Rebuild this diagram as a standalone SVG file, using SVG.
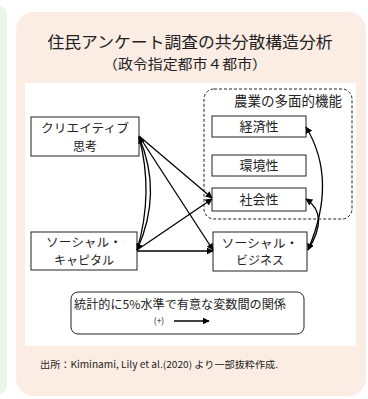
<svg xmlns="http://www.w3.org/2000/svg" width="368" height="399" viewBox="0 0 368 399">
<defs>
<marker id="ah" viewBox="0 0 10 10" refX="9" refY="5" markerWidth="7" markerHeight="7" markerUnits="userSpaceOnUse" orient="auto-start-reverse">
<path d="M0,0 L10,5 L0,10 z" fill="#000"/>
</marker>
<style>
.t{font-family:"Noto Sans CJK JP","Noto Sans",sans-serif;fill:#222;text-anchor:middle}
.box{fill:#fff;stroke:#222;stroke-width:1}
.c{fill:none;stroke:#000;stroke-width:1.3}
</style>
</defs>
<rect x="-20" y="4" width="27" height="392" rx="12" fill="#edf5e6"/>
<rect x="16" y="12" width="350" height="384" rx="18" fill="#fcede4"/>
<text class="t" x="190" y="48" font-size="16" textLength="285" lengthAdjust="spacingAndGlyphs">住民アンケート調査の共分散構造分析</text>
<text class="t" x="185" y="69" font-size="13.5" textLength="164" lengthAdjust="spacingAndGlyphs">（政令指定都市４都市）</text>
<rect x="25" y="83" width="331" height="263" fill="#fff"/>
<g id="group-agri">
<rect x="204" y="89" width="148" height="130" rx="10" fill="none" stroke="#222" stroke-width="1" stroke-dasharray="3,2"/>
<text class="t" x="288" y="106" font-size="13.5">農業の多面的機能</text>
</g>
<g id="n-creative"><rect class="box" x="31" y="117" width="108" height="39"/><text class="t" x="85" y="133" font-size="12" textLength="88" lengthAdjust="spacingAndGlyphs">クリエイティブ</text><text class="t" x="85" y="150.5" font-size="12">思考</text></g>
<g id="n-capital"><rect class="box" x="31" y="232" width="106" height="38"/><text class="t" x="84" y="247" font-size="12" textLength="76" lengthAdjust="spacingAndGlyphs">ソーシャル・</text><text class="t" x="84" y="264.5" font-size="12">キャピタル</text></g>
<g id="n-econ"><rect class="box" x="212" y="116" width="94" height="21"/><text class="t" x="259" y="131" font-size="13">経済性</text></g>
<g id="n-env"><rect class="box" x="212" y="155" width="94" height="21"/><text class="t" x="259" y="170" font-size="13">環境性</text></g>
<g id="n-social"><rect class="box" x="212" y="188" width="94" height="23"/><text class="t" x="259" y="204" font-size="13">社会性</text></g>
<g id="n-business"><rect class="box" x="213" y="232" width="94" height="39"/><text class="t" x="260" y="247.5" font-size="12" textLength="77" lengthAdjust="spacingAndGlyphs">ソーシャル・</text><text class="t" x="260" y="265" font-size="12">ビジネス</text></g>
<g id="connectors">
<path class="c" d="M139,136 L212,198" marker-end="url(#ah)"/>
<path class="c" d="M139,136 L213,250" marker-end="url(#ah)"/>
<path class="c" d="M137,250 L212,199" marker-end="url(#ah)"/>
<path class="c" d="M137,251 L213,251" marker-end="url(#ah)"/>
<path class="c" d="M139,137 Q163,193 137,250" marker-start="url(#ah)" marker-end="url(#ah)"/>
<path class="c" d="M139,137 Q154,193 137,250"/>
<path class="c" d="M306,127 Q338,180 308,250" marker-start="url(#ah)" marker-end="url(#ah)"/>
<path class="c" d="M306,199 Q330,215 308,250" marker-start="url(#ah)"/>
</g>
<g id="legend">
<rect x="71" y="292" width="233" height="42" rx="7" fill="#fff" stroke="#222" stroke-width="1"/>
<text class="t" x="180" y="309" font-size="12" textLength="212" lengthAdjust="spacingAndGlyphs">統計的に5%水準で有意な変数間の関係</text>
<text class="t" x="159" y="324" font-size="8.5">(+)</text>
<path class="c" d="M174,321 L209,321" marker-end="url(#ah)"/>
</g>
<text class="t" x="159" y="368" font-size="9.5" textLength="238" lengthAdjust="spacingAndGlyphs">出所：Kiminami, Lily et al.(2020) より一部抜粋作成.</text>
</svg>
